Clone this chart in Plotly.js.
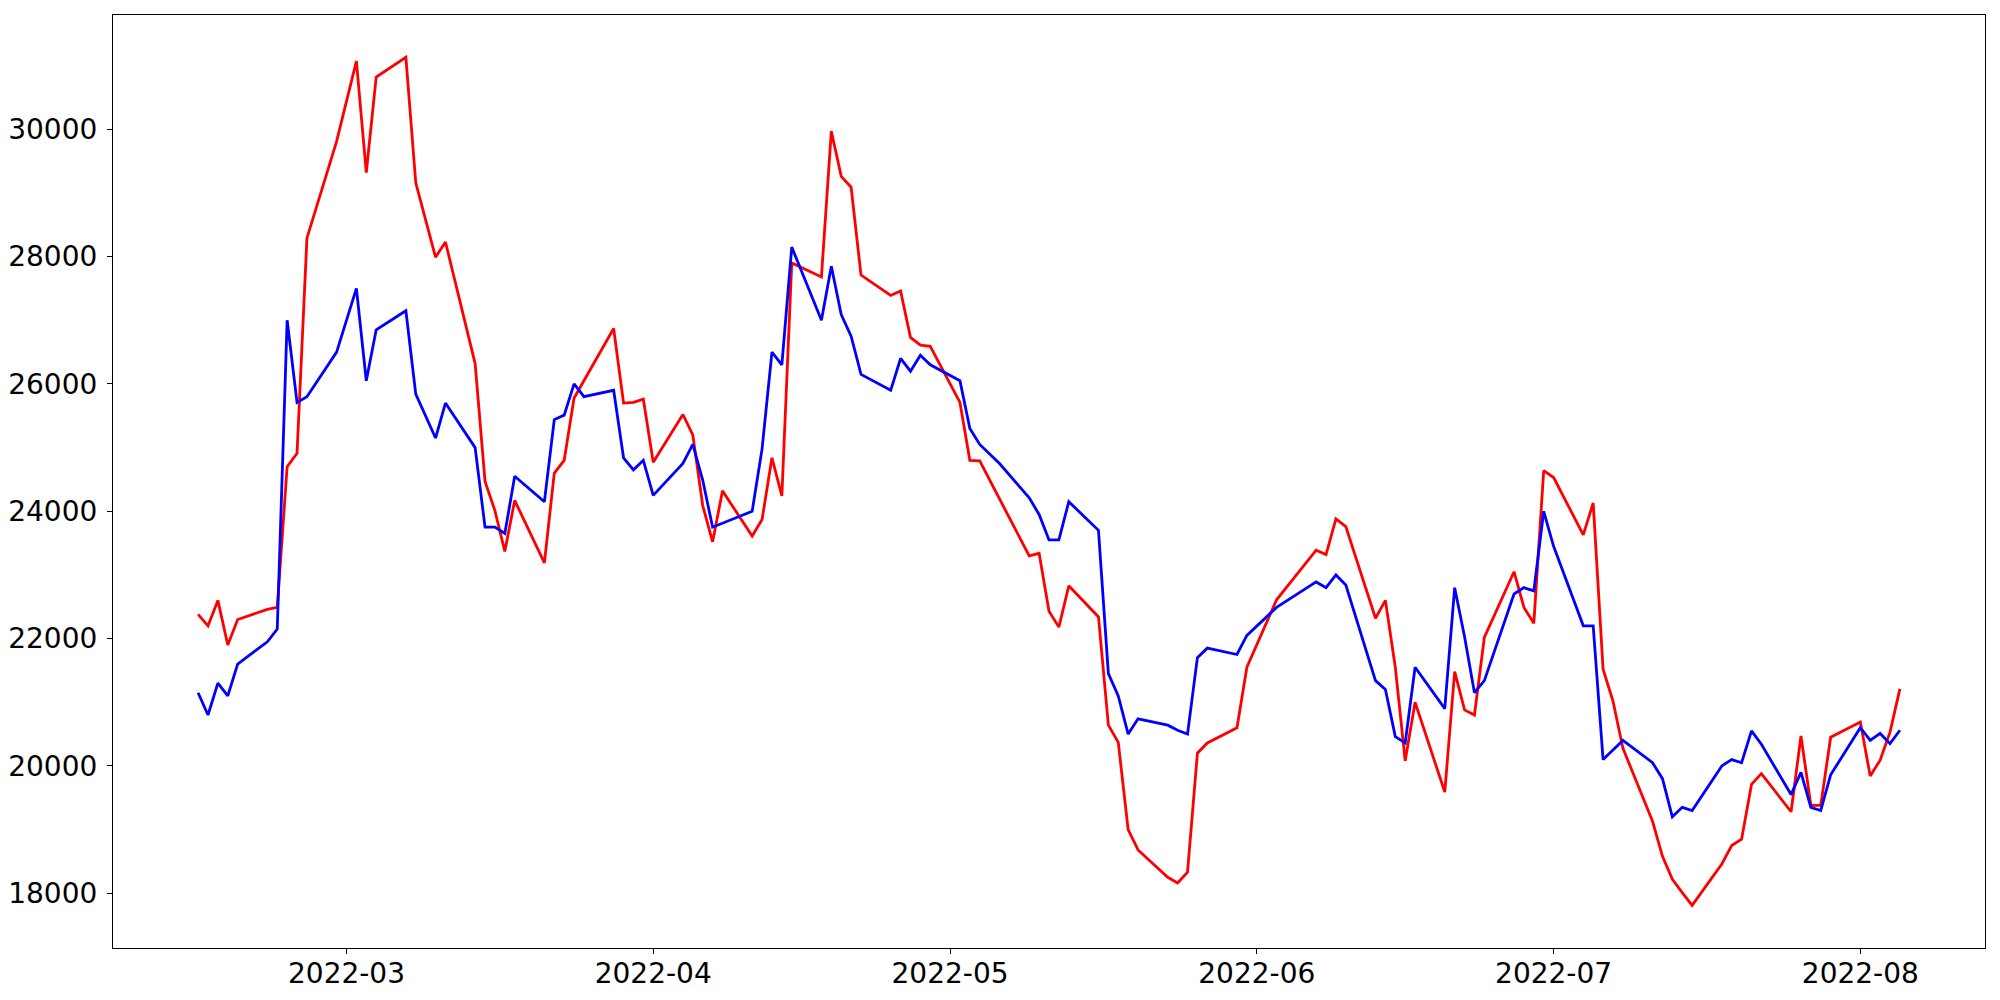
<!DOCTYPE html>
<html>
<head>
<meta charset="utf-8">
<script src="https://cdn.plot.ly/plotly-3.0.1.min.js"></script>
<style>
  html, body { margin: 0; padding: 0; background: #ffffff; }
  #chart { width: 2000px; height: 1000px; }
</style>
</head>
<body>
<div id="chart"></div>
<script>
// Trading dates
const dates = [
  "2022-02-14","2022-02-15","2022-02-16","2022-02-17","2022-02-18","2022-02-21","2022-02-22","2022-02-23","2022-02-24","2022-02-25","2022-02-28",
  "2022-03-02","2022-03-03","2022-03-04","2022-03-07","2022-03-08","2022-03-10","2022-03-11","2022-03-14","2022-03-15","2022-03-16","2022-03-17","2022-03-18","2022-03-21","2022-03-22","2022-03-23","2022-03-24","2022-03-25","2022-03-28","2022-03-29","2022-03-30","2022-03-31",
  "2022-04-01","2022-04-04","2022-04-05","2022-04-06","2022-04-07","2022-04-08","2022-04-11","2022-04-12","2022-04-13","2022-04-14","2022-04-15","2022-04-18","2022-04-19","2022-04-20","2022-04-21","2022-04-22","2022-04-25","2022-04-26","2022-04-27","2022-04-28","2022-04-29",
  "2022-05-02","2022-05-03","2022-05-04","2022-05-06","2022-05-09","2022-05-10","2022-05-11","2022-05-12","2022-05-13","2022-05-16","2022-05-17","2022-05-18","2022-05-19","2022-05-20","2022-05-23","2022-05-24","2022-05-25","2022-05-26","2022-05-27","2022-05-30","2022-05-31",
  "2022-06-03","2022-06-07","2022-06-08","2022-06-09","2022-06-10","2022-06-13","2022-06-14","2022-06-15","2022-06-16","2022-06-17","2022-06-20","2022-06-21","2022-06-22","2022-06-23","2022-06-24","2022-06-27","2022-06-28","2022-06-29","2022-06-30",
  "2022-07-01","2022-07-04","2022-07-05","2022-07-06","2022-07-07","2022-07-08","2022-07-11","2022-07-12","2022-07-13","2022-07-14","2022-07-15","2022-07-18","2022-07-19","2022-07-20","2022-07-21","2022-07-22","2022-07-25","2022-07-26","2022-07-27","2022-07-28","2022-07-29",
  "2022-08-01","2022-08-02","2022-08-03","2022-08-04","2022-08-05"
];

// Red series
const redValues = [
  22380,22200,22600,21900,22300,22460,22490,24700,24910,28290,29810,
  31070,29320,30820,31130,29160,27990,28230,26320,24470,24010,23370,24170,23190,24600,24800,25780,26050,26870,25700,25710,25760,
  24770,25520,25200,24090,23520,24320,23610,23870,24840,24240,27900,27680,29970,29260,29090,27710,27390,27460,26730,26610,26590,
  25710,24800,24790,24200,23300,23340,22430,22180,22830,22340,20640,20370,19000,18680,18250,18160,18330,20200,20360,20600,21550,
  22610,23390,23320,23880,23760,22320,22600,21550,20080,21000,19590,21480,20880,20800,22020,23050,22490,22240,24640,
  24530,23630,24130,21520,21020,20280,19130,18580,18220,18010,17810,18460,18750,18850,19710,19880,19280,20470,19380,19380,20450,
  20690,19840,20090,20530,21210
];

// Blue series
const blueValues = [
  21150,20800,21300,21100,21600,21950,22150,27000,25710,25800,26500,
  27500,26050,26850,27150,25840,25150,25700,25000,23750,23750,23650,24550,24150,25440,25510,26000,25800,25900,24840,24650,24800,
  24250,24750,25050,24490,23750,23810,24000,24980,26500,26300,28150,27000,27850,27090,26750,26150,25900,26400,26200,26450,26300,
  26050,25300,25050,24750,24210,23950,23550,23550,24150,23700,21450,21100,20500,20740,20640,20560,20500,21700,21850,21750,22050,
  22490,22890,22800,23000,22840,21340,21200,20460,20360,21550,20900,22800,22030,21150,21340,22700,22800,22750,24000,
  23450,22200,22200,20100,20250,20400,20050,19800,19200,19350,19300,20000,20100,20050,20550,20340,19550,19900,19350,19300,19860,
  20600,20400,20510,20350,20560
];

// Tick labels
const xTickVals = ["2022-03-01","2022-04-01","2022-05-01","2022-06-01","2022-07-01","2022-08-01"];
const xTickText = ["2022-03","2022-04","2022-05","2022-06","2022-07","2022-08"];
const yTickVals = [18000,20000,22000,24000,26000,28000,30000];
const yTickText = ["18000","20000","22000","24000","26000","28000","30000"];

const traces = [
  {x: dates, y: redValues, type: "scatter", mode: "lines", line: {color: "#ff0000", width: 2.8}, hoverinfo: "x+y"},
  {x: dates, y: blueValues, type: "scatter", mode: "lines", line: {color: "#0000ff", width: 2.8}, hoverinfo: "x+y"}
];

const axisFont = {family: "DejaVu Sans, sans-serif", size: 28, color: "#000000"};

const layout = {
  width: 2000,
  height: 1000,
  margin: {l: 113, r: 15, t: 15, b: 52, pad: 0},
  paper_bgcolor: "#ffffff",
  plot_bgcolor: "#ffffff",
  showlegend: false,
  font: axisFont,
  xaxis: {
    type: "date",
    range: ["2022-02-05 09:36", "2022-08-13 14:24"],
    tickmode: "array",
    tickvals: xTickVals,
    ticktext: xTickText,
    ticks: "outside",
    ticklen: 5,
    tickwidth: 1.1,
    tickcolor: "#000000",
    showgrid: false,
    zeroline: false,
    showline: true,
    linecolor: "#000000",
    linewidth: 1.1,
    mirror: true,
    tickfont: axisFont,
    ticklabelstandoff: -5
  },
  yaxis: {
    range: [17140, 31795],
    tickmode: "array",
    tickvals: yTickVals,
    ticktext: yTickText,
    ticks: "outside",
    ticklen: 5,
    tickwidth: 1.1,
    tickcolor: "#000000",
    showgrid: false,
    zeroline: false,
    showline: true,
    linecolor: "#000000",
    linewidth: 1.1,
    mirror: true,
    tickfont: axisFont,
    ticklabelstandoff: 4
  }
};

Plotly.newPlot("chart", traces, layout, {staticPlot: true, displayModeBar: false});
</script>
</body>
</html>
